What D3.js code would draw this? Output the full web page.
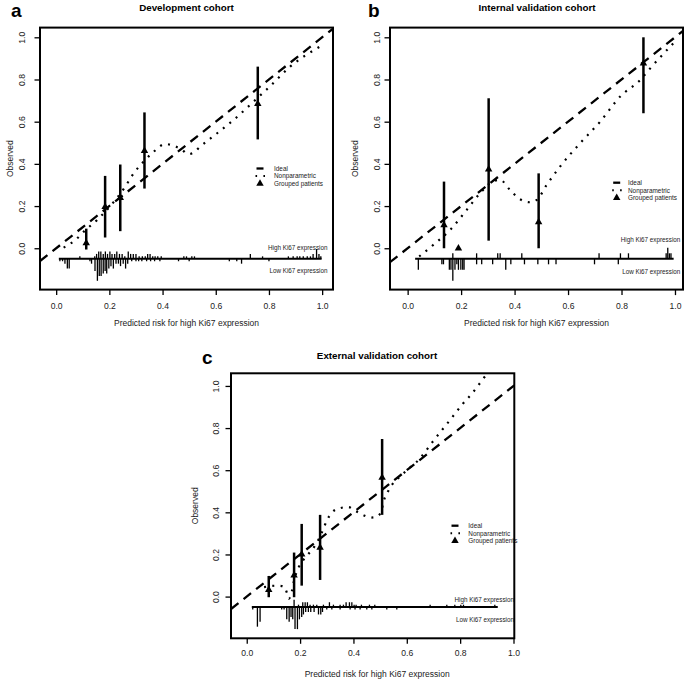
<!DOCTYPE html>
<html><head><meta charset="utf-8">
<script src="https://cdn.jsdelivr.net/npm/d3@7"></script>
<style>
body{margin:0;background:#fff}
svg{display:block}
text{font-family:"Liberation Sans",Arial,Helvetica,sans-serif;fill:#111}
</style>
</head><body>
<svg id="chart" width="685" height="680"></svg>
<script>
// ---------- shared text / ticks ----------
const panelLetters = ["a", "b", "c"];
const panelTitles = ["Development cohort", "Internal validation cohort", "External validation cohort"];
const xTickValues = [0, 0.2, 0.4, 0.6, 0.8, 1.0];
const xTickLabels = ["0.0", "0.2", "0.4", "0.6", "0.8", "1.0"];
const yTickValues = [0, 0.2, 0.4, 0.6, 0.8, 1.0];
const yTickLabels = ["0.0", "0.2", "0.4", "0.6", "0.8", "1.0"];
const legendLabels = ["Ideal", "Nonparametric", "Grouped patients"];
const rugLabels = ["High Ki67 expression", "Low Ki67 expression"];
const xAxisTitle = "Predicted risk for high Ki67 expression";
const yAxisTitle = "Observed";
const rugBaselineValue = -0.05;

// ---------- a: Development cohort ----------
const devGroupX  = [0.113, 0.184, 0.241, 0.332, 0.758];
const devGroupY  = [0.025, 0.196, 0.239, 0.462, 0.685];
const devGroupLo = [-0.006, 0.051, 0.081, 0.283, 0.516];
const devGroupHi = [0.093, 0.343, 0.397, 0.644, 0.861];
const devCurveX = [0.028, 0.071, 0.109, 0.153, 0.178, 0.222, 0.259, 0.291, 0.328, 0.366, 0.41, 0.441, 0.472, 0.497, 0.515, 0.541, 0.604, 0.667, 0.742, 0.805, 0.88, 0.992];
const devCurveY = [0.003, 0.038, 0.085, 0.133, 0.165, 0.228, 0.291, 0.354, 0.41, 0.457, 0.494, 0.486, 0.468, 0.446, 0.452, 0.481, 0.544, 0.608, 0.695, 0.769, 0.861, 0.956];
const devRugRange = [0.01, 0.998];
const devHighX = [0.089, 0.145, 0.152, 0.16, 0.168, 0.177, 0.185, 0.193, 0.202, 0.21, 0.22, 0.228, 0.238, 0.248, 0.258, 0.271, 0.28, 0.29, 0.3, 0.312, 0.324, 0.335, 0.344, 0.353, 0.363, 0.372, 0.382, 0.395, 0.48, 0.49, 0.51, 0.52, 0.73, 0.776, 0.873, 0.891, 0.906, 0.916, 0.929, 0.944, 0.956, 0.966, 0.979, 0.988, 0.995];
const devHighN = [1, 1, 2, 3, 3, 2, 3, 2, 3, 2, 2, 3, 2, 2, 1, 3, 2, 2, 2, 1, 1, 1, 2, 2, 1, 1, 1, 1, 1, 1, 1, 1, 2, 1, 1, 1, 1, 1, 1, 1, 1, 2, 4, 2, 1];
const devLowX = [0.014, 0.024, 0.033, 0.042, 0.049, 0.127, 0.133, 0.146, 0.155, 0.162, 0.169, 0.177, 0.184, 0.19, 0.198, 0.206, 0.215, 0.225, 0.234, 0.242, 0.252, 0.261, 0.269, 0.284, 0.3, 0.31, 0.322, 0.34, 0.355, 0.37, 0.39, 0.46, 0.5, 0.651, 0.679, 0.697, 0.8];
const devLowN = [1, 1, 2, 4, 4, 1, 2, 5, 9, 7, 7, 6, 5, 6, 4, 3, 4, 2, 2, 3, 2, 4, 2, 1, 1, 1, 1, 1, 1, 1, 1, 1, 1, 1, 1, 2, 1];

// ---------- b: Internal validation cohort ----------
const intGroupX  = [0.136, 0.19, 0.303, 0.49, 0.882];
const intGroupY  = [0.11, 0.0, 0.374, 0.124, 0.877];
const intGroupLo = [0.0, 0.0, 0.036, 0.0, 0.64];
const intGroupHi = [0.316, 0.0, 0.711, 0.355, 1.0];
const intCurveX = [0.043, 0.096, 0.159, 0.221, 0.271, 0.321, 0.346, 0.383, 0.421, 0.458, 0.483, 0.52, 0.57, 0.645, 0.72, 0.795, 0.87, 0.913, 0.994];
const intCurveY = [-0.039, 0.016, 0.087, 0.182, 0.261, 0.318, 0.324, 0.276, 0.232, 0.218, 0.229, 0.3, 0.387, 0.498, 0.6, 0.719, 0.798, 0.861, 0.972];
const intRugRange = [0.028, 0.995];
const intHighX = [0.169, 0.258, 0.337, 0.346, 0.427, 0.716, 0.796, 0.826, 0.967, 0.973, 0.979, 0.985];
const intHighN = [1, 1, 1, 1, 1, 1, 1, 1, 1, 2, 1, 1];
const intLowX = [0.04, 0.128, 0.134, 0.156, 0.162, 0.169, 0.177, 0.184, 0.19, 0.199, 0.206, 0.211, 0.258, 0.277, 0.318, 0.367, 0.386, 0.437, 0.487, 0.527, 0.555, 0.699, 0.788];
const intLowN = [2, 1, 1, 2, 2, 4, 2, 1, 2, 2, 2, 2, 1, 1, 1, 2, 1, 1, 1, 1, 1, 1, 1];

// ---------- c: External validation cohort ----------
const extGroupX  = [0.0825, 0.1775, 0.206, 0.275, 0.5075];
const extGroupY  = [0.032, 0.101, 0.201, 0.233, 0.565];
const extGroupLo = [-0.003, -0.003, 0.052, 0.079, 0.388];
const extGroupHi = [0.098, 0.209, 0.345, 0.388, 0.748];
const extCurveX = [0.065, 0.09, 0.115, 0.14, 0.15, 0.158, 0.166, 0.18, 0.195, 0.21, 0.23, 0.26, 0.28, 0.3, 0.32, 0.35, 0.38, 0.41, 0.44, 0.465, 0.49, 0.505, 0.515, 0.53, 0.55, 0.575, 0.6, 0.645, 0.7, 0.76, 0.81, 0.845, 0.89, 0.905];
const extCurveY = [0.045, 0.05, 0.052, 0.048, 0.02, -0.01, 0.01, 0.09, 0.14, 0.17, 0.2, 0.25, 0.3, 0.36, 0.4, 0.42, 0.425, 0.405, 0.385, 0.375, 0.38, 0.41, 0.46, 0.5, 0.54, 0.57, 0.6, 0.65, 0.74, 0.835, 0.915, 0.965, 1.04, 1.065];
const extRugRange = [0.019, 0.941];
const extHighX = [0.1775, 0.194, 0.21, 0.219, 0.2275, 0.2375, 0.25, 0.2625, 0.2875, 0.31, 0.325, 0.35, 0.3625, 0.3725, 0.385, 0.394, 0.4025, 0.41, 0.43, 0.46, 0.48, 0.6875, 0.75, 0.78, 0.8025, 0.8125, 0.93];
const extHighN = [3, 1, 2, 2, 2, 1, 1, 1, 1, 2, 1, 1, 1, 2, 2, 2, 1, 1, 1, 1, 1, 1, 1, 1, 1, 1, 1];
const extLowX = [0.0225, 0.04, 0.05, 0.131, 0.14, 0.15, 0.159, 0.166, 0.1725, 0.181, 0.19, 0.1975, 0.206, 0.2125, 0.221, 0.231, 0.24, 0.2525, 0.269, 0.2775, 0.284, 0.3, 0.319, 0.35, 0.3875, 0.406, 0.425, 0.45, 0.469, 0.525, 0.5625];
const extLowN = [1, 8, 6, 1, 1, 5, 6, 4, 5, 9, 9, 5, 4, 3, 2, 2, 2, 2, 3, 3, 2, 1, 1, 1, 1, 1, 1, 1, 1, 1, 1];

// ---------- layout (positions only) ----------
const layout = [
  { box: [40, 27.6, 333, 289.6], xdom: [-0.0608, 1.0408], ydom: [-0.196, 1.046],
    letter: [11, 17], title: [186.5, 11], ytickX: 22, ylabX: 10, xtickY: 309, xlabY: 326,
    legend: [260, 274, 168.5, 7.5], rugHiY: 247.5, rugLoY: 270.5, rugTextX: 327.5,
    group: [devGroupX, devGroupY, devGroupLo, devGroupHi], curve: [devCurveX, devCurveY],
    rug: [devRugRange, devHighX, devHighN, devLowX, devLowN] },
  { box: [390, 27.6, 683, 289.6], xdom: [-0.066, 1.030], ydom: [-0.196, 1.046],
    letter: [368, 17], title: [537, 11], ytickX: 377.3, ylabX: 355, xtickY: 309, xlabY: 326,
    legend: [616.7, 628, 182.7, 7.6], rugHiY: 240, rugLoY: 272, rugTextX: 680.3,
    group: [intGroupX, intGroupY, intGroupLo, intGroupHi], curve: [intCurveX, intCurveY],
    rug: [intRugRange, intHighX, intHighN, intLowX, intLowN] },
  { box: [231, 373.3, 514.3, 638.3], xdom: [-0.059, 1.003], ydom: [-0.198, 1.060],
    letter: [202, 364], title: [377, 358.5], ytickX: 216, ylabX: 195, xtickY: 656.5, xlabY: 677,
    legend: [455, 468.3, 525.7, 7.6], rugHiY: 599.5, rugLoY: 619.5, rugTextX: 514,
    group: [extGroupX, extGroupY, extGroupLo, extGroupHi], curve: [extCurveX, extCurveY],
    rug: [extRugRange, extHighX, extHighN, extLowX, extLowN] }
];

const svg = d3.select("#chart");
const defs = svg.append("defs");

layout.forEach((L, i) => {
  const [x0, y0, x1, y1] = L.box;
  const x = d3.scaleLinear().domain(L.xdom).range([x0, x1]);
  const y = d3.scaleLinear().domain(L.ydom).range([y1, y0]);
  const g = svg.append("g");

  defs.append("clipPath").attr("id", "clip" + i)
    .append("rect").attr("x", x0).attr("y", y0).attr("width", x1 - x0).attr("height", y1 - y0);

  // panel letter and title
  g.append("text").attr("x", L.letter[0]).attr("y", L.letter[1])
    .attr("font-size", 19).attr("font-weight", "bold").style("fill", "#000").text(panelLetters[i]);
  g.append("text").attr("x", L.title[0]).attr("y", L.title[1]).attr("text-anchor", "middle")
    .attr("font-size", 9.8).attr("font-weight", "bold").style("fill", "#000").text(panelTitles[i]);

  // axes: x
  const xAx = d3.axisBottom(x).tickValues(xTickValues).tickFormat((d, k) => xTickLabels[k]).tickSize(5.5).tickPadding(0);
  const gx = g.append("g").attr("transform", `translate(0,${y1})`).call(xAx);
  gx.select(".domain").remove();
  gx.selectAll(".tick line").attr("stroke", "#000").attr("stroke-width", 1.3);
  gx.selectAll(".tick text").attr("y", L.xtickY - y1).attr("dy", 0)
    .attr("font-size", 8.6).style("fill", "#222").attr("font-family", null);

  // axes: y
  const yAx = d3.axisLeft(y).tickValues(yTickValues).tickFormat((d, k) => yTickLabels[k]).tickSize(5.5).tickPadding(0);
  const gy = g.append("g").attr("transform", `translate(${x0},0)`).call(yAx);
  gy.select(".domain").remove();
  gy.selectAll(".tick line").attr("stroke", "#000").attr("stroke-width", 1.3);
  gy.selectAll(".tick text").attr("x", null).attr("dy", null)
    .attr("text-anchor", "middle")
    .attr("transform", `translate(${L.ytickX - x0},0) rotate(-90)`)
    .attr("y", 0).attr("dy", "0.35em")
    .attr("font-size", 8.6).style("fill", "#222").attr("font-family", null);

  // axis titles
  g.append("text").attr("x", (x0 + x1) / 2 + (i === 2 ? 4.5 : 0)).attr("y", L.xlabY).attr("text-anchor", "middle")
    .attr("font-size", 8.5).style("fill", "#222").text(xAxisTitle);
  g.append("text").attr("text-anchor", "middle")
    .attr("transform", `translate(${L.ylabX},${(y0 + y1) / 2}) rotate(-90)`).attr("dy", "0.35em")
    .attr("font-size", 8.5).style("fill", "#222").text(yAxisTitle);

  const plot = g.append("g").attr("clip-path", `url(#clip${i})`);

  // ideal line
  plot.append("path")
    .datum(L.xdom)
    .attr("d", d3.line().x(d => x(d)).y(d => y(d)))
    .attr("fill", "none").attr("stroke", "#000").attr("stroke-width", 2.3)
    .attr("stroke-dasharray", "9.5,6.5");

  // nonparametric curve
  const [cx, cy] = L.curve;
  const pts = cx.map((v, k) => [v, cy[k]]);
  plot.append("path")
    .datum(pts)
    .attr("d", d3.line().x(d => x(d[0])).y(d => y(d[1])).curve(d3.curveMonotoneX))
    .attr("fill", "none").attr("stroke", "#000").attr("stroke-width", 2.2)
    .attr("stroke-dasharray", "2,6.3");

  // rug / spike histogram
  const [rr, hx, hn, lx, ln] = L.rug;
  const maxN = d3.max(hn.concat(ln));
  const h = d3.scaleLinear().domain([0, maxN]).range([0, 22]);
  const by = y(rugBaselineValue);
  g.append("line").attr("x1", x(rr[0])).attr("x2", x(rr[1])).attr("y1", by).attr("y2", by)
    .attr("stroke", "#000").attr("stroke-width", 2);
  g.selectAll(null).data(hx.map((v, k) => [v, hn[k]])).enter().append("line")
    .attr("x1", d => x(d[0])).attr("x2", d => x(d[0]))
    .attr("y1", by).attr("y2", d => by - h(d[1]))
    .attr("stroke", "#000").attr("stroke-width", 1.3);
  g.selectAll(null).data(lx.map((v, k) => [v, ln[k]])).enter().append("line")
    .attr("x1", d => x(d[0])).attr("x2", d => x(d[0]))
    .attr("y1", by).attr("y2", d => by + h(d[1]))
    .attr("stroke", "#000").attr("stroke-width", 1.3);
  g.append("text").attr("x", L.rugTextX).attr("y", L.rugHiY).attr("dy", "0.35em").attr("text-anchor", "end")
    .attr("font-size", 6.3).style("fill", "#222").text(rugLabels[0]);
  g.append("text").attr("x", L.rugTextX).attr("y", L.rugLoY).attr("dy", "0.35em").attr("text-anchor", "end")
    .attr("font-size", 6.3).style("fill", "#222").text(rugLabels[1]);

  // grouped patients: error bars + triangles
  const [gxv, gyv, glo, ghi] = L.group;
  const gd = gxv.map((v, k) => ({ x: v, y: gyv[k], lo: glo[k], hi: ghi[k] }));
  g.selectAll(null).data(gd.filter(d => d.hi > d.lo)).enter().append("line")
    .attr("x1", d => x(d.x)).attr("x2", d => x(d.x))
    .attr("y1", d => y(d.lo)).attr("y2", d => y(d.hi))
    .attr("stroke", "#000").attr("stroke-width", 2.5);
  const tri = d3.symbol(d3.symbolTriangle).size(24);
  g.selectAll(null).data(gd).enter().append("path")
    .attr("d", tri).attr("transform", d => `translate(${x(d.x)},${y(d.y)})`).attr("fill", "#000");

  // legend
  const [lsx, ltx, ly, ldy] = L.legend;
  const lg = g.append("g");
  lg.append("line").attr("x1", lsx - 3.5).attr("x2", lsx + 3.5).attr("y1", ly).attr("y2", ly)
    .attr("stroke", "#000").attr("stroke-width", 2.3);
  lg.append("line").attr("x1", lsx - 4.5).attr("x2", lsx + 5).attr("y1", ly + ldy).attr("y2", ly + ldy)
    .attr("stroke", "#000").attr("stroke-width", 2).attr("stroke-dasharray", "1.6,6.3");
  lg.append("path").attr("d", tri).attr("transform", `translate(${lsx},${ly + 2 * ldy})`).attr("fill", "#000");
  legendLabels.forEach((t, k) => {
    lg.append("text").attr("x", ltx).attr("y", ly + k * ldy).attr("dy", "0.35em")
      .attr("font-size", 6.4).style("fill", "#222").text(t);
  });

  // box
  g.append("rect").attr("x", x0).attr("y", y0).attr("width", x1 - x0).attr("height", y1 - y0)
    .attr("fill", "none").attr("stroke", "#000").attr("stroke-width", 2);
});
</script>
</body></html>
